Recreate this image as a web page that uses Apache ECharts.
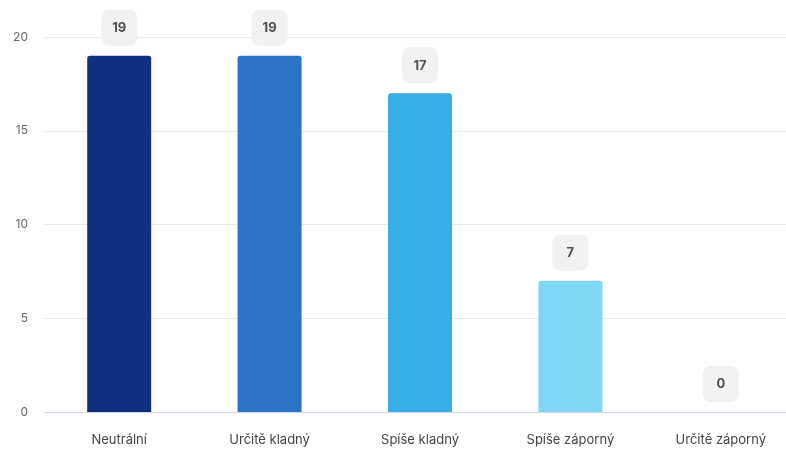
<!DOCTYPE html>
<html><head><meta charset="utf-8">
<script src="https://cdn.jsdelivr.net/npm/echarts@6/dist/echarts.min.js"></script>
<style>html,body{margin:0;padding:0;background:#fff;overflow:hidden}#c{width:800px;height:450px}</style>
</head><body><div id="c"></div>
<script>
const categories = ['Neutrální', 'Určitě kladný', 'Spíše kladný', 'Spíše záporný', 'Určitě záporný'];
const values = [19, 19, 17, 7, 0];
const colors = ['#0f2f80', '#2b73c4', '#38aee6', '#7fd7f4', '#a8e6f8'];
const chart = echarts.init(document.getElementById('c'));
chart.setOption({
  animation: false,
  grid: { left: 44, right: 4, top: 37, bottom: 38, containLabel: false },
  xAxis: {
    type: 'category', data: categories,
    axisLine: { lineStyle: { color: '#ccd6eb', width: 1 } },
    axisTick: { show: false },
    axisLabel: { color: '#444', fontSize: 13, fontFamily: 'Inter', margin: 22 }
  },
  yAxis: {
    type: 'value', min: 0, max: 20, interval: 5,
    axisLine: { show: false }, axisTick: { show: false },
    splitLine: { lineStyle: { color: '#ebebeb' } },
    axisLabel: { color: '#666', fontSize: 12, fontFamily: 'Inter', margin: 16 }
  },
  series: [{
    type: 'bar', barWidth: 64,
    data: values.map((v, i) => ({ value: v, itemStyle: { color: colors[i], borderRadius: [3, 3, 0, 0] } })),
    label: {
      show: true, position: 'top', distance: 10,
      backgroundColor: '#f0f1f2', borderRadius: 8,
      padding: [12, 10, 11, 10], width: 16, align: 'center',
      color: '#505050', fontWeight: 'bold', fontSize: 13, fontFamily: 'Inter'
    }
  }]
});
</script></body></html>
